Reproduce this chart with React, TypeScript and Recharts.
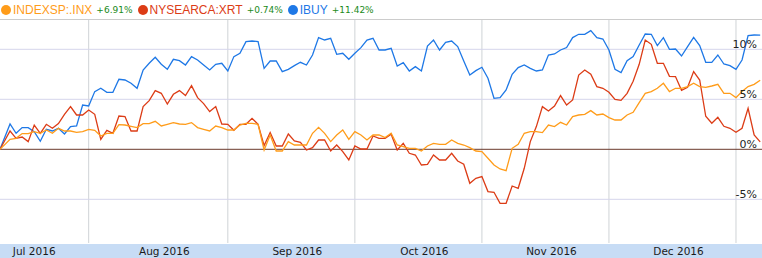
import { LineChart, Line, XAxis, YAxis, ReferenceLine } from "recharts";

const tickers = ["INDEXSP:.INX", "NYSEARCA:XRT", "IBUY"];
const changes = ["+6.91%", "+0.74%", "+11.42%"];
const colors = ["#ff9c1a", "#dc3c16", "#1e78e6"];

const months = ["Jul 2016", "Aug 2016", "Sep 2016", "Oct 2016", "Nov 2016", "Dec 2016"];
// trading day index where each month begins (Jul is cut off, last one is Jan 2017)
const monthStarts = [-6, 14, 37, 58, 79, 100, 121];
const pctTicks = [10, 5, 0, -5];

// % change since start, one value per trading day
const inx = [
    0, 1.0, 1.1, 1.57, 1.57, 1.77, 1.6, 1.93, 1.6, 2.1,
    1.83, 1.83, 1.7, 1.77, 2.0, 1.9, 1.33, 1.6, 1.6, 2.47,
    2.43, 2.3, 2.17, 2.57, 2.57, 2.8, 2.33, 2.5, 2.67, 2.53,
    2.5, 2.67, 2.17, 2.0, 1.83, 2.33, 2.17, 1.93, 1.93, 2.43,
    2.6, 2.6, 2.5, -0.07, 1.43, -0.17, -0.17, 0.77, 0.43, 0.43,
    0.43, 1.6, 2.2, 1.6, 0.77, 1.43, 1.93, 1.0, 1.77, 1.43,
    0.93, 1.43, 1.43, 1.17, 1.6, 0.43, 0.27, 0.1, 0.1, -0.17,
    0.33, 0.6, 0.5, 0.5, 0.93, 0.6, 0.43, 0.17, -0.17, -0.23,
    -0.9, -1.57, -1.97, -2.13, 0.1, 0.5, 1.6, 1.77, 1.77, 1.67,
    2.43, 2.27, 2.7, 2.43, 3.27, 3.43, 3.5, 3.87, 3.43, 3.53,
    3.17, 2.93, 2.93, 3.43, 3.7, 4.67, 5.6, 5.77, 6.1, 6.6,
    5.77, 6.1, 6.1, 6.27, 6.6, 6.27, 6.2, 6.33, 6.5, 5.6,
    5.6, 5.17, 5.77, 6.27, 6.5, 6.91,
];
const xrt = [
    0, 1.83, 1.1, 1.23, 0.77, 2.43, 1.6, 2.5, 2.1, 2.57,
    3.5, 4.27, 3.43, 3.43, 3.93, 3.5, 1.0, 1.9, 1.6, 3.33,
    3.27, 1.83, 1.83, 4.27, 4.87, 5.87, 5.6, 4.53, 5.5, 5.87,
    5.37, 6.37, 5.17, 4.57, 3.77, 4.27, 2.53, 2.5, 1.9, 2.5,
    2.5, 3.1, 2.5, 0.37, 1.67, 0.33, 0.33, 1.53, 0.83, 0.7,
    -0.07, 0.17, 0.93, 0.93, -0.17, 0.43, -0.23, -1.07, 0.33, 0.03,
    0.03, 1.33, 1.1, 1.1, 1.5, -0.07, 0.6, -0.4, -0.57, -1.57,
    -1.5, -0.57, -1.07, -1.07, -0.4, -1.17, -1.5, -3.4, -2.9, -2.73,
    -4.23, -4.3, -5.4, -5.4, -3.67, -3.9, -1.9, 0.77, 2.27, 4.27,
    3.83, 4.33, 5.37, 4.43, 4.93, 7.43, 7.93, 7.5, 6.27, 6.1,
    5.7, 5.0, 4.9, 5.6, 6.8, 8.5, 10.93, 10.5, 8.6, 8.6,
    7.3, 7.27, 5.9, 6.2, 7.77, 6.93, 3.3, 2.6, 3.2, 2.3,
    2.1, 1.7, 2.1, 4.1, 1.43, 0.74,
];
const ibuy = [
    0, 2.53, 1.6, 2.17, 2.17, 1.77, 0.8, 2.0, 1.83, 2.1,
    1.53, 2.27, 2.33, 4.43, 4.33, 5.77, 6.1, 5.7, 5.7, 7.0,
    6.93, 6.6, 6.1, 7.93, 8.6, 9.2, 8.5, 8.0, 9.0, 8.87,
    8.43, 9.27, 8.93, 8.43, 7.93, 8.5, 8.6, 7.83, 9.27, 9.6,
    10.77, 10.83, 10.77, 8.1, 8.83, 8.83, 7.77, 8.0, 8.37, 8.7,
    8.43, 9.43, 11.17, 10.93, 11.1, 9.5, 9.6, 9.0, 9.6, 10.17,
    10.93, 11.1, 9.93, 9.93, 10.1, 8.33, 8.67, 7.83, 8.27, 7.83,
    10.33, 10.93, 9.93, 10.7, 10.83, 10.27, 8.83, 7.43, 7.87, 8.2,
    7.1, 5.1, 5.17, 5.93, 7.5, 8.17, 8.43, 8.1, 7.83, 7.93,
    9.43, 9.53, 9.93, 10.17, 11.17, 11.5, 11.5, 11.87, 11.17, 11.03,
    9.93, 8.0, 7.67, 8.87, 9.27, 10.43, 11.53, 11.5, 10.37, 11.17,
    10.0, 10.03, 9.33, 10.27, 11.2, 10.37, 8.7, 8.7, 9.43, 8.53,
    8.37, 8.0, 8.93, 11.37, 11.43, 11.42,
];

const data = inx.map((v, i) => ({
    t: i === 0 ? -0.66 : i,
    inx: v,
    xrt: xrt[i],
    ibuy: ibuy[i],
}));

const labelCenters = months.map((_, i) => (monthStarts[i] + monthStarts[i + 1]) / 2 + 1);
const boundaries = monthStarts.slice(1);

const MonthTick = (props: any) => {
    const {x, y} = props;
    return <line x1={x} x2={x} y1={y - 4} y2={y} stroke="#000" strokeWidth={1}/>;
};

const MonthLabel = (props: any) => {
    const {x, y, index} = props;
    return (
        <text x={x} y={y + 12} textAnchor="middle" fontSize={10.5} fill="#1a1a1a"
              fontFamily="'DejaVu Sans', Verdana, sans-serif">
            {months[index]}
        </text>
    );
};

const PctTick = (props: any) => {
    const {y, payload} = props;
    return (
        <text x={757} y={y - 1} textAnchor="end" fontSize={11} fill="#222"
              fontFamily="'DejaVu Sans', Verdana, sans-serif">
            {payload.value}%
        </text>
    );
};

function Header() {
    return (
        <div style={{
            position: "absolute", top: 0, left: 0, width: 762, height: 20,
            boxSizing: "border-box", borderBottom: "1px solid #cccccc",
            display: "flex", alignItems: "center", paddingLeft: 1,
        }}>
            {tickers.map((name, i) => (
                <div key={name} style={{display: "flex", alignItems: "center", marginRight: 5}}>
                    <span style={{
                        width: 10, height: 10, borderRadius: 5, background: colors[i],
                        display: "inline-block", marginRight: 2,
                    }}/>
                    <span style={{color: colors[i], fontFamily: "'Liberation Sans', Arial, sans-serif", fontSize: 12}}>
                        {name}
                    </span>
                    <span style={{
                        color: "#1a8a1a", fontFamily: "'DejaVu Sans', Verdana, sans-serif",
                        fontSize: 9, marginLeft: 4,
                    }}>
                        {changes[i]}
                    </span>
                </div>
            ))}
        </div>
    );
}

export default function App() {
    return (
        <div style={{position: "relative", width: 762, height: 258, background: "#fff", overflow: "hidden"}}>
            <style>{"body{margin:0}"}</style>
            <Header/>
            <div style={{position: "absolute", top: 244, left: 0, width: 762, height: 14, background: "#c7dcf5"}}/>
            <div style={{position: "absolute", top: 20, left: 0}}>
                <LineChart width={762} height={238} data={data} margin={{top: 0, right: 0, bottom: 0, left: 0}}>
                    <XAxis xAxisId="m" dataKey="t" type="number" domain={[-0.66, 125.3]}
                           allowDataOverflow ticks={boundaries} height={0} tickSize={0} tickMargin={0}
                           axisLine={false} tick={<MonthTick/>} interval={0}/>
                    <XAxis xAxisId="l" dataKey="t" type="number" domain={[-0.66, 125.3]}
                           allowDataOverflow ticks={labelCenters} height={15} tickSize={0} tickMargin={0}
                           axisLine={false} tickLine={false} tick={<MonthLabel/>} interval={0}/>
                    <YAxis type="number" domain={[-9.37, 12.93]} allowDataOverflow ticks={pctTicks}
                           orientation="right" mirror width={40} axisLine={false} tickLine={false}
                           tick={<PctTick/>} interval={0}/>
                    {boundaries.map((b) => (
                        <ReferenceLine key={"v" + b} xAxisId="m" x={b} stroke="#cfd3d6" strokeWidth={1}/>
                    ))}
                    {pctTicks.filter((p) => p !== 0).map((p) => (
                        <ReferenceLine key={"h" + p} xAxisId="m" y={p} stroke="#d5d5ec" strokeWidth={1}/>
                    ))}
                    <ReferenceLine xAxisId="m" y={0} stroke="#6b3a2c" strokeWidth={1}/>
                    <Line xAxisId="m" dataKey="ibuy" type="linear" stroke={colors[2]} strokeWidth={1.3}
                          dot={false} activeDot={false} isAnimationActive={false}/>
                    <Line xAxisId="m" dataKey="xrt" type="linear" stroke={colors[1]} strokeWidth={1.3}
                          dot={false} activeDot={false} isAnimationActive={false}/>
                    <Line xAxisId="m" dataKey="inx" type="linear" stroke={colors[0]} strokeWidth={1.3}
                          dot={false} activeDot={false} isAnimationActive={false}/>
                </LineChart>
            </div>
        </div>
    );
}
